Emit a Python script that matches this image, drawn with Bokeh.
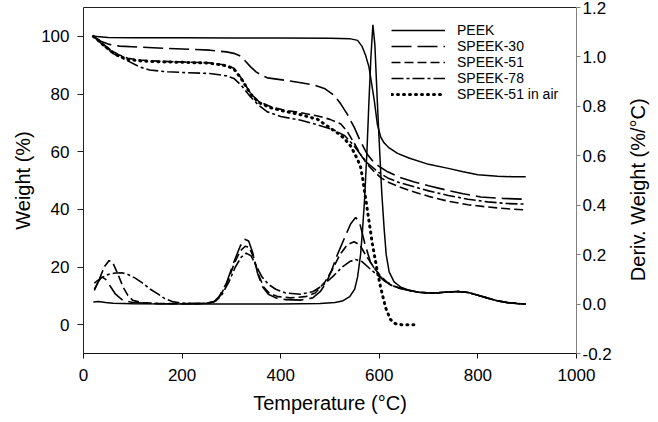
import math
from bokeh.plotting import figure
from bokeh.models import Range1d, LinearAxis, FixedTicker, PrintfTickFormatter, Legend, LegendItem, Label
from bokeh.embed import file_html
from bokeh.resources import INLINE

# ---------------- data ----------------
x_ticks = [0, 200, 400, 600, 800, 1000]
w_ticks = [0, 20, 40, 60, 80, 100]
d_ticks = [-0.2, 0.0, 0.2, 0.4, 0.6, 0.8, 1.0, 1.2]

labels = ["PEEK", "SPEEK-30", "SPEEK-51", "SPEEK-78", "SPEEK-51 in air"]

# TGA weight (%) curves
peek_T = [20, 50, 100, 200, 300, 400, 500, 540, 556, 565, 572, 579, 585, 590, 596, 603, 610, 620, 637, 660, 700, 740, 770, 800, 840, 870, 897]
peek_W = [100, 99.6, 99.5, 99.5, 99.4, 99.4, 99.3, 99.2, 98.6, 96.5, 93.5, 89.4, 83, 77.5, 69.5, 65, 63, 61.3, 59.4, 57.8, 55.6, 54.2, 53, 52, 51.5, 51.3, 51.3]

s30_T = [20, 35, 50, 73, 120, 168, 220, 256, 290, 305, 320, 339, 350, 360, 373, 407, 441, 468, 490, 508, 522, 535, 549, 562, 576, 589, 603, 617, 640, 671, 700, 738, 770, 806, 850, 897]
s30_W = [100, 98.3, 97.3, 96.6, 96.2, 95.8, 95.5, 95.2, 94.6, 94.1, 93.0, 89.4, 87.7, 86.6, 85.6, 84.8, 83.9, 83.1, 81.8, 79.6, 76.5, 73, 68.5, 63.5, 59, 56.3, 54.5, 53, 51.2, 49.5, 48.2, 46.6, 45.4, 44.3, 43.8, 43.5]

s51_T = [20, 30, 40, 55, 70, 90, 114, 150, 200, 256, 290, 305, 320, 339, 356, 380, 407, 441, 475, 500, 522, 535, 549, 562, 576, 590, 603, 617, 640, 671, 700, 740, 780, 820, 860, 897]
s51_W = [100, 98.8, 97.3, 95.3, 93.7, 92.4, 91.8, 91.4, 91.1, 90.8, 90.0, 88.9, 85.5, 80.2, 77.3, 75.6, 74.4, 73.5, 72.4, 71.2, 69.6, 67, 63, 59, 55.5, 53, 51, 49.5, 47.8, 46, 44.5, 42.8, 41.6, 40.8, 40.2, 39.8]

s78_T = [20, 30, 45, 60, 86, 114, 134, 170, 210, 256, 290, 305, 320, 339, 356, 373, 400, 441, 475, 508, 530, 549, 562, 576, 590, 603, 617, 640, 671, 700, 740, 780, 820, 860, 897]
s78_W = [100, 98.5, 96.2, 94, 91.8, 89.4, 88.3, 87.7, 87.4, 87.1, 86.3, 85.4, 83, 79, 76, 73.8, 72.2, 70.9, 69.3, 67.5, 65.5, 62, 59, 56, 54, 52.3, 50.9, 49.3, 47.8, 46.4, 44.8, 43.5, 42.6, 42, 41.8]

air_T = [20, 30, 40, 55, 70, 90, 114, 150, 200, 256, 290, 305, 320, 339, 356, 380, 407, 441, 475, 502, 515, 529, 543, 549, 556, 562, 566, 569, 573, 579, 586, 596, 603, 613, 623, 632, 644, 671]
air_W = [100, 98.6, 97, 95, 93.3, 92, 91.5, 91.2, 91, 90.7, 89.8, 88.7, 85.3, 80, 77, 75.2, 74, 72.8, 71.2, 68, 66.5, 64.6, 61.7, 59.6, 57.3, 54.7, 51, 47.5, 43, 36, 28, 18.5, 12.7, 5.8, 1.7, 0.4, 0, 0]

# DTG derivative weight (%/°C) curves
tail_T = [680, 700, 720, 740, 760, 780, 800, 820, 840, 860, 880, 897]
tail_D = [0.048, 0.045, 0.046, 0.049, 0.051, 0.047, 0.036, 0.024, 0.013, 0.006, 0.002, 0.0]

dpeek_T = [20, 30, 45, 60, 100, 200, 300, 400, 480, 510, 525, 540, 550, 556, 562, 566, 570, 575, 579, 583, 587, 591, 596, 600, 605, 610, 614, 620, 630, 644, 660]
dpeek_D = [0.008, 0.01, 0.006, 0.003, 0.001, 0.0, 0.0, 0.0, 0.002, 0.006, 0.012, 0.03, 0.06, 0.11, 0.2, 0.3, 0.42, 0.62, 0.82, 1.0, 1.13, 1.05, 0.82, 0.65, 0.45, 0.3, 0.2, 0.13, 0.09, 0.068, 0.056]

d30_T = [22, 30, 37, 45, 55, 65, 80, 100, 150, 200, 250, 265, 275, 290, 305, 318, 327, 335, 343, 353, 363, 375, 390, 410, 440, 465, 480, 492, 503, 515, 530, 542, 552, 560, 570, 582, 596, 610, 623, 640, 660]
d30_D = [0.06, 0.09, 0.11, 0.1, 0.07, 0.04, 0.015, 0.006, 0.002, 0.001, 0.003, 0.01, 0.03, 0.085, 0.17, 0.235, 0.262, 0.255, 0.21, 0.125, 0.07, 0.04, 0.025, 0.018, 0.016, 0.025, 0.05, 0.085, 0.135, 0.2, 0.27, 0.325, 0.35, 0.33, 0.25, 0.17, 0.125, 0.095, 0.077, 0.064, 0.055]

d51_T = [22, 32, 42, 52, 60, 70, 80, 90, 100, 120, 150, 200, 250, 265, 278, 292, 306, 318, 328, 336, 345, 355, 365, 378, 395, 420, 450, 470, 490, 505, 520, 535, 549, 560, 575, 590, 603, 615, 630, 645, 660]
d51_D = [0.055, 0.1, 0.15, 0.176, 0.165, 0.12, 0.07, 0.035, 0.015, 0.005, 0.003, 0.001, 0.003, 0.01, 0.035, 0.09, 0.165, 0.215, 0.234, 0.23, 0.19, 0.12, 0.07, 0.042, 0.03, 0.025, 0.03, 0.045, 0.09, 0.14, 0.2, 0.24, 0.252, 0.24, 0.19, 0.145, 0.112, 0.09, 0.072, 0.063, 0.056]

d78_T = [22, 35, 50, 65, 78, 90, 105, 120, 134, 150, 165, 180, 200, 230, 255, 268, 280, 295, 308, 320, 330, 340, 350, 362, 375, 390, 410, 440, 465, 485, 505, 525, 540, 552, 565, 580, 596, 610, 623, 640, 660]
d78_D = [0.085, 0.105, 0.12, 0.126, 0.127, 0.12, 0.105, 0.085, 0.062, 0.042, 0.022, 0.01, 0.004, 0.002, 0.004, 0.012, 0.035, 0.09, 0.15, 0.19, 0.206, 0.195, 0.155, 0.11, 0.08, 0.06, 0.045, 0.04, 0.05, 0.075, 0.11, 0.15, 0.172, 0.18, 0.172, 0.145, 0.117, 0.095, 0.078, 0.065, 0.056]

# ---------------- figure ----------------
FONT = "Liberation Sans"

p = figure(frame_width=493, frame_height=346,
           min_border_left=83, min_border_right=82, min_border_top=7, min_border_bottom=69,
           x_range=Range1d(0, 1000), y_range=Range1d(-10, 110),
           output_backend="svg", toolbar_location=None)
p.extra_y_ranges = {"deriv": Range1d(-0.2, 1.2)}
p.xgrid.visible = False
p.ygrid.visible = False
p.outline_line_color = None
p.background_fill_color = "white"
p.border_fill_color = "white"

def style_axis(ax, tick_out, label_standoff, axis_label_standoff, color="black"):
    ax.major_label_text_font = FONT
    ax.major_label_text_font_size = "17px"
    ax.major_label_text_color = "black"
    ax.axis_label_text_font = FONT
    ax.axis_label_text_font_size = "20px"
    ax.axis_label_text_font_style = "normal"
    ax.axis_label_text_color = "black"
    ax.axis_line_color = color
    ax.major_tick_line_color = color
    ax.minor_tick_line_color = None
    ax.major_tick_in = 0
    ax.major_tick_out = tick_out
    ax.major_label_standoff = label_standoff
    ax.axis_label_standoff = axis_label_standoff

xa = p.xaxis[0]
xa.ticker = FixedTicker(ticks=x_ticks)
xa.axis_label = "Temperature (°C)"
style_axis(xa, 5, 10, 8, "#111111")

ya = p.yaxis[0]
ya.ticker = FixedTicker(ticks=w_ticks)
ya.axis_label = "Weight (%)"
style_axis(ya, 6, 8, 4, "#222222")

ra = LinearAxis(y_range_name="deriv", ticker=FixedTicker(ticks=d_ticks),
                formatter=PrintfTickFormatter(format="%.1f"))
style_axis(ra, 4, 2, 10, "#808080")
p.add_layout(ra, "right")

# right-axis title reading bottom-to-top, as in the reference (placed in the right panel)
p.add_layout(Label(x=1124, y=46.8, text="Deriv. Weight (%/°C)", angle=math.pi / 2,
                   text_align="center", text_baseline="middle",
                   text_font=FONT, text_font_size="20px", text_color="black"), "right")

top = LinearAxis(ticker=FixedTicker(ticks=[]), major_label_text_font_size="0px")
top.axis_line_color = "#222222"
top.major_tick_out = 0
top.minor_tick_line_color = None
p.add_layout(top, "above")

LW = 1.6
styles = {
    "PEEK": dict(line_dash="solid", line_width=1.5),
    "SPEEK-30": dict(line_dash="20 6", line_width=LW),
    "SPEEK-51": dict(line_dash="9 4", line_width=LW),
    "SPEEK-78": dict(line_dash="12 3 3 3", line_width=LW),
    "SPEEK-51 in air": dict(line_dash="1 5", line_width=3, line_cap="round"),
}

r_peek = p.line(peek_T, peek_W, color="black", **styles["PEEK"])
r_30 = p.line(s30_T, s30_W, color="black", **styles["SPEEK-30"])
r_51 = p.line(s51_T, s51_W, color="black", **styles["SPEEK-51"])
r_78 = p.line(s78_T, s78_W, color="black", **styles["SPEEK-78"])
r_air = p.line(air_T, air_W, color="black", **styles["SPEEK-51 in air"])

p.line(dpeek_T + tail_T, dpeek_D + tail_D, color="black", y_range_name="deriv", **styles["PEEK"])
p.line(d30_T + tail_T, d30_D + tail_D, color="black", y_range_name="deriv", **styles["SPEEK-30"])
p.line(d51_T + tail_T, d51_D + tail_D, color="black", y_range_name="deriv", **styles["SPEEK-51"])
p.line(d78_T + tail_T, d78_D + tail_D, color="black", y_range_name="deriv", **styles["SPEEK-78"])

# one single-row legend per entry, so the row pitch matches the reference
legend_rows_y = [314.6, 298.6, 282.6, 266.6, 250.6]
for lab, rend, ly in zip(labels, [r_peek, r_30, r_51, r_78, r_air], legend_rows_y):
    lg = Legend(items=[LegendItem(label=lab, renderers=[rend])], location=(308, ly))
    lg.label_text_font = FONT
    lg.label_text_font_size = "14px"
    lg.label_text_color = "black"
    lg.glyph_width = 54
    lg.glyph_height = 12
    lg.label_height = 12
    lg.spacing = 0
    lg.padding = 0
    lg.margin = 0
    lg.label_standoff = 12
    lg.border_line_color = None
    lg.background_fill_alpha = 0
    p.add_layout(lg)

open("out.html", "w").write(file_html(p, INLINE))
